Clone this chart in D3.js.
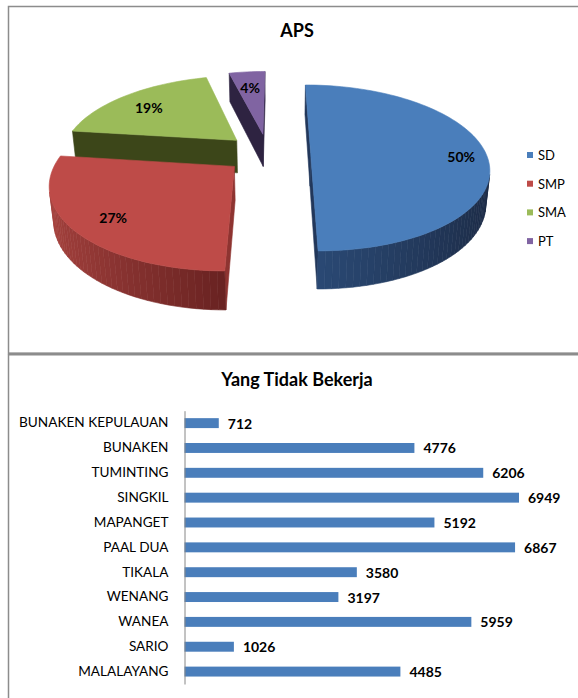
<!DOCTYPE html>
<html lang="en">
<head>
<meta charset="UTF-8">
<title>APS dan Yang Tidak Bekerja</title>
<script src="https://d3js.org/d3.v7.min.js"></script>
<style>
  body { margin: 0; background: #fff; }
  svg { display: block; font-family: Lato, "Open Sans", sans-serif; }
</style>
</head>
<body>
<svg id="chart" width="578" height="698"></svg>
<script>
// pie data
const pieLabels = ["SD", "SMP", "SMA", "PT"];
const pieValues = [50, 27, 19, 4];
const pieColors = ["#4A7EBB", "#BE4B48", "#9BBB59", "#8064A2"];
const cutColors = ["#22375A", "#8E3431", "#3C4619", "#2E2341"];
const wallDark = ["#1C2B46", "#6A2322", "#3C4619", "#2E2341"];
const wallLight = ["#2A4873", "#A5423E", "#3C4619", "#2E2341"];

// bar data
const districts = ["BUNAKEN KEPULAUAN", "BUNAKEN", "TUMINTING", "SINGKIL", "MAPANGET",
    "PAAL DUA", "TIKALA", "WENANG", "WANEA", "SARIO", "MALALAYANG"];
const workless = [712, 4776, 6206, 6949, 5192, 6867, 3580, 3197, 5959, 1026, 4485];

const svg = d3.select("#chart");

// chart frames
svg.append("rect")
    .attr("x", 8.5).attr("y", 6.5)
    .attr("width", 620).attr("height", 347)
    .attr("fill", "none").attr("stroke", "#8C8C8C").attr("stroke-width", 1.5);
svg.append("line")
    .attr("x1", 8).attr("x2", 578).attr("y1", 354).attr("y2", 354)
    .attr("stroke", "#8C8C8C").attr("stroke-width", 3);
svg.append("line")
    .attr("x1", 8.5).attr("x2", 8.5).attr("y1", 354).attr("y2", 698)
    .attr("stroke", "#8C8C8C").attr("stroke-width", 1.5);

// ---------- 3D exploded pie ----------
svg.append("text")
    .attr("x", 297).attr("y", 37)
    .attr("text-anchor", "middle")
    .style("font-size", "18px").style("font-weight", "bold")
    .text("APS");

const tilt = 26.5 * Math.PI / 180, sa = Math.sin(tilt), ca = Math.cos(tilt);
const camDist = 4.97, focalX = 870, focalY = 894, camX = 0.05;
const originX = 276.5, originY = 153;
const thick = 0.21, explode = 0.245;
const camPos = [camX, camDist * sa, camDist * ca];

// world point [x, y(up), w(toward viewer)] -> screen
function project(p) {
    const depth = camDist - p[1] * sa - p[2] * ca;
    return [originX + focalX * (p[0] - camX) / depth,
            originY - focalY * (p[1] * ca - p[2] * sa) / depth];
}
function facing(n, p) {
    return n[0] * (camPos[0] - p[0]) + n[1] * (camPos[1] - p[1]) + n[2] * (camPos[2] - p[2]) > 0;
}

const arcs = d3.pie().sort(null).value(d => d)(pieValues);
const line = d3.line();

const slices = arcs.map((a, i) => {
    const a0 = a.startAngle, a1 = a.endAngle, m = (a0 + a1) / 2;
    const ox = explode * Math.sin(m), ow = -explode * Math.cos(m);
    const rim = (t, y) => [ox + Math.sin(t), y, ow - Math.cos(t)];
    const ctr = y => [ox, y, ow];
    const steps = Math.max(2, Math.ceil((a1 - a0) / (Math.PI / 90)));
    const angles = d3.range(steps + 1).map(k => a0 + (a1 - a0) * k / steps);
    const faces = [];

    // radial cut faces
    [[a0, a0 - Math.PI / 2], [a1, a1 + Math.PI / 2]].forEach(([t, nt]) => {
        const n = [Math.sin(nt), 0, -Math.cos(nt)];
        if (facing(n, ctr(0))) {
            faces.push({ pts: [ctr(0), rim(t, 0), rim(t, -thick), ctr(-thick)], fill: cutColors[i] });
        }
    });

    // outer wall
    const segs = [];
    for (let k = 0; k < steps; k++) {
        const tm = (angles[k] + angles[k + 1]) / 2;
        const n = [Math.sin(tm), 0, -Math.cos(tm)];
        if (facing(n, rim(tm, 0))) segs.push({ k, light: (1 - Math.sin(tm)) / 2 });
    }
    const lo = d3.min(segs, s => s.light), hi = d3.max(segs, s => s.light);
    const shade = d3.scaleLinear().domain([lo, hi === lo ? lo + 1 : hi]).range([0, 1]);
    segs.forEach(s => {
        const t0 = angles[s.k], t1 = angles[s.k + 1];
        faces.push({
            pts: [rim(t0, 0), rim(t1, 0), rim(t1, -thick), rim(t0, -thick)],
            fill: d3.interpolateRgb(wallDark[i], wallLight[i])(shade(s.light))
        });
    });

    // top face
    faces.push({ pts: [ctr(0)].concat(angles.map(t => rim(t, 0))), fill: pieColors[i] });

    const lr = i === 0 ? 0.86 : 0.78;
    const labelPos = project([ox + lr * Math.sin(m), 0, ow - lr * Math.cos(m)]);
    return { i, faces, depth: camDist - ow * ca, labelPos };
});

const pieG = svg.append("g");
slices.slice().sort((a, b) => b.depth - a.depth).forEach(s => {
    const g = pieG.append("g");
    s.faces.forEach(f => {
        g.append("path")
            .attr("d", line(f.pts.map(project)) + "Z")
            .attr("fill", f.fill)
            .attr("stroke", f.fill)
            .attr("stroke-width", 0.6)
            .attr("stroke-linejoin", "round");
    });
});

slices.forEach(s => {
    svg.append("text")
        .attr("x", s.labelPos[0]).attr("y", s.labelPos[1] + 3)
        .attr("text-anchor", "middle")
        .attr("dominant-baseline", "central")
        .style("font-size", "14px").style("font-weight", "bold")
        .attr("fill", "#000")
        .text(pieValues[s.i] + "%");
});

// legend
const legend = svg.append("g").selectAll("g")
    .data(pieLabels)
    .enter().append("g")
    .attr("transform", (d, i) => `translate(527, ${155 + i * 28.7})`);
legend.append("rect")
    .attr("x", 0).attr("y", -3).attr("width", 6).attr("height", 6)
    .attr("fill", (d, i) => pieColors[i]);
legend.append("text")
    .attr("x", 11).attr("y", 0)
    .attr("dominant-baseline", "central")
    .style("font-size", "13px")
    .attr("fill", "#000")
    .text(d => d);

// ---------- horizontal bar chart ----------
svg.append("text")
    .attr("x", 297).attr("y", 386)
    .attr("text-anchor", "middle")
    .style("font-size", "18px").style("font-weight", "bold")
    .text("Yang Tidak Bekerja");

const x = d3.scaleLinear().domain([0, 8000]).range([184.5, 569.6]);
const y = d3.scaleBand().domain(districts).range([410.7, 684])
    .paddingInner(0.6).paddingOuter(0.3);

svg.append("g")
    .selectAll("rect")
    .data(workless)
    .enter().append("rect")
    .attr("x", x(0))
    .attr("y", (d, i) => y(districts[i]))
    .attr("width", d => x(d) - x(0))
    .attr("height", y.bandwidth())
    .attr("fill", "#4A7EBB");

svg.append("g")
    .selectAll("text")
    .data(workless)
    .enter().append("text")
    .attr("x", d => x(d) + 9)
    .attr("y", (d, i) => y(districts[i]) + y.bandwidth() / 2)
    .attr("dominant-baseline", "central")
    .style("font-size", "14px").style("font-weight", "bold")
    .text(d => d);

const yAxis = svg.append("g")
    .attr("transform", `translate(${x(0)},0)`)
    .call(d3.axisLeft(y).tickSize(0).tickPadding(16));
yAxis.select(".domain").attr("stroke", "#868686");
yAxis.selectAll("text")
    .style("font-size", "13.6px")
    .style("font-family", "Lato, 'Open Sans', sans-serif")
    .attr("fill", "#000");
</script>
</body>
</html>
